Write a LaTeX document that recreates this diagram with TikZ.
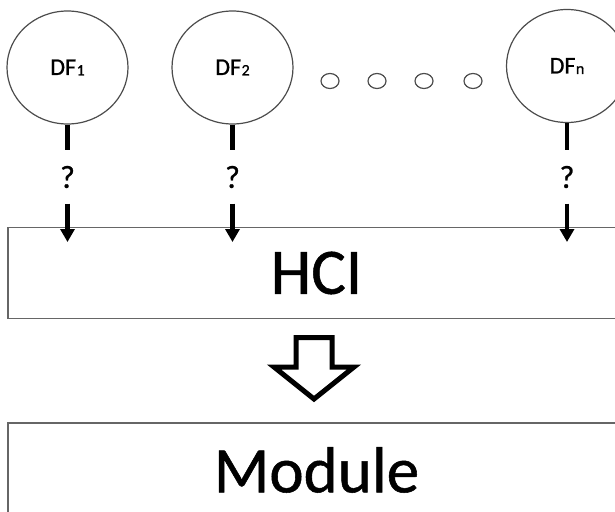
\documentclass[tikz,border=0pt]{standalone}
\usepackage{fontspec}
\setmainfont{Carlito}[FakeBold=0.8]
\usetikzlibrary{arrows.meta,shapes.geometric}
\newcommand\dfsub[1]{\kern0.5pt{\fontsize{16}{16}\selectfont\raisebox{-0.5pt}{#1}}}
\begin{document}
\begin{tikzpicture}[x=1pt,y=-1pt,
  df/.style={ellipse,draw=black!70,line width=1.2pt,minimum width=121pt,minimum height=113pt,inner sep=0pt,font=\fontsize{24}{26}\selectfont},
  qm/.style={inner sep=0pt,minimum height=53pt,font=\fontsize{32}{34}\selectfont},
  bar/.style={line width=4.5pt},
  feed/.style={line width=4.5pt,-{Triangle[width=14pt,length=13pt]}},
  dotnode/.style={ellipse,draw=black!70,line width=1.2pt,minimum width=18pt,minimum height=15pt,inner sep=0pt},
  block/.style={draw=black!60,line width=1.3pt,inner sep=0pt,minimum width=617pt,font=\fontsize{65}{70}\selectfont},
  hollow/.style={draw=black,fill=white,line width=5pt,line join=miter}
]
\useasboundingbox (0,0) rectangle (615,511);
\fill[white] (0,0) rectangle (615,511);

\node[df] (d1) at (67.5,67.5) {DF\dfsub{1}};
\node[df] (d2) at (232.5,67.5) {DF\dfsub{2}};
\node[df] (dn) at (567,66) {DF\dfsub{n}};

\node[dotnode] (o1) at (330,81) {};
\node[dotnode] (o2) at (377,81) {};
\node[dotnode] (o3) at (424,81) {};
\node[dotnode] (o4) at (473,81) {};

\node[qm] (q1) at (67.5,177) {?};
\node[qm] (q2) at (232.5,177) {?};
\node[qm] (qn) at (567,177) {?};

\node[block,minimum height=91pt] (hci) at (316.5,273) {HCI};
\node[block,minimum height=94pt] (mod) at (316.5,470) {Module};

\coordinate (h1) at (67.5,242);
\coordinate (h2) at (232.5,242);
\coordinate (hn) at (567,242);

\draw[bar] (d1.south) -- (q1.north);
\draw[bar] (d2.south) -- (q2.north);
\draw[bar] (dn.south) -- (qn.north);
\draw[feed] (q1.south) -- (h1);
\draw[feed] (q2.south) -- (h2);
\draw[feed] (qn.south) -- (hn);

\draw[hollow] (296,337.5) -- (332,337.5) -- (332,367) -- (354,367) -- (314,399) -- (274,367) -- (296,367) -- cycle;
\end{tikzpicture}
\end{document}
